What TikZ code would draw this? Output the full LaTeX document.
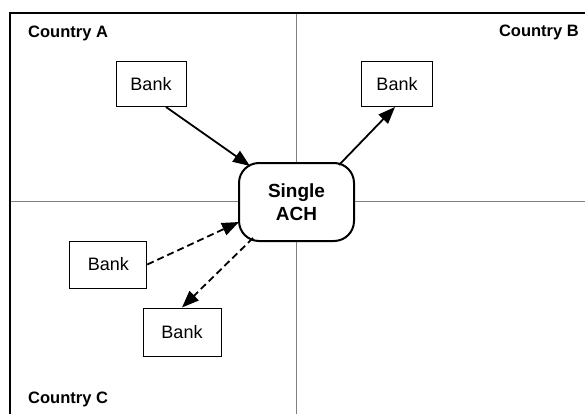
\documentclass[tikz,border=0pt]{standalone}
\usepackage{fontspec}
\setmainfont{Liberation Sans}
\usetikzlibrary{arrows.meta,calc}
\definecolor{divgray}{RGB}{128,128,128}
\begin{document}
\begin{tikzpicture}[x=1pt,y=-1pt,
  bankbox/.style={draw,line width=1pt,fill=white,inner sep=0pt,font=\fontsize{18}{20}\selectfont},
  country/.style={inner sep=0pt,font=\bfseries\fontsize{16.5}{18}\selectfont},
  achbox/.style={draw,line width=2pt,fill=white,rounded corners=20pt,minimum width=115pt,minimum height=78pt,inner sep=0pt,align=center,font=\bfseries\fontsize{19}{22.6}\selectfont},
  flow/.style={line width=1.8pt,-{Triangle[length=17pt,width=13pt]}},
  dflow/.style={flow,dash pattern=on 7pt off 4pt},
  divider/.style={draw=divgray,line width=1pt}]
\useasboundingbox (0,0) rectangle (585,414);
\fill[white] (0,0) rectangle (585,414);
% quadrant dividers
\draw[divider] (296,13) -- (296,414);
\draw[divider] (10,201) -- (585,201);
% frame
\draw[line width=2pt] (9.5,414) -- (9.5,13) -- (585,13);
% country labels
\node[country,anchor=base west] (ca) at (28,38) {Country A};
\node[country,anchor=base east] (cb) at (579,37) {Country B};
\node[country,anchor=base west] (cc) at (28,403) {Country C};
% central ACH
\node[achbox] (ach) at (296.5,202) {Single\\ACH};
% banks
\node[bankbox,minimum width=70pt,minimum height=45pt] (bankA) at (151,84) {Bank};
\node[bankbox,minimum width=71pt,minimum height=45pt] (bankB) at (397,84) {Bank};
\node[bankbox,minimum width=77pt,minimum height=47pt] (bankCl) at (108.3,264.5) {Bank};
\node[bankbox,minimum width=78pt,minimum height=48pt] (bankCb) at (182,332) {Bank};
% connectors
\draw[flow] ($(bankA.south)+(15,0)$) -- ($(ach.center)+(-46.5,-36)$);
\draw[flow] ($(ach.center)+(42.5,-37)$) -- ($(bankB.south)+(-2,0)$);
\draw[dflow] (bankCl.east) -- ($(ach.center)+(-57.5,20)$);
\draw[dflow] ($(ach.center)+(-43.5,36)$) -- (bankCb.north);
\end{tikzpicture}
\end{document}
